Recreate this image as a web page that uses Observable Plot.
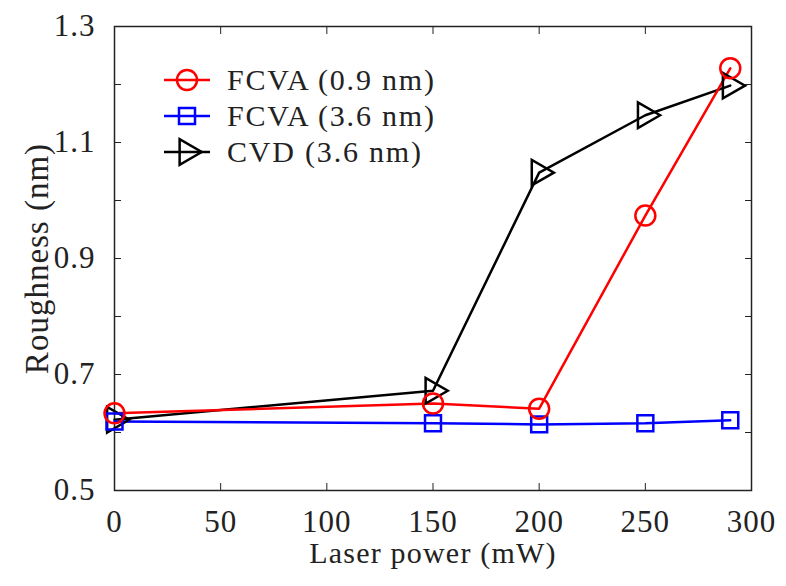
<!DOCTYPE html>
<html><head><meta charset="utf-8">
<script src="https://cdn.jsdelivr.net/npm/d3@7"></script>
<script src="https://cdn.jsdelivr.net/npm/@observablehq/plot@0.6"></script>
<style>
body{margin:0;background:#fff;}
#wrap{position:relative;width:786px;height:586px;font-family:"Liberation Serif","Times New Roman",serif;}
#legend{position:absolute;left:162px;top:62px;font-size:30px;letter-spacing:1.8px;line-height:36px;color:#222;}
#legend div{display:flex;align-items:center;height:36px;}
#legend svg{margin-right:15px;}
</style></head><body>
<div id="wrap"><div id="legend"></div></div>
<script>
const power = [0, 150, 200, 250, 290];
const fcva09 = [0.633, 0.650, 0.641, 0.974, 1.228];
const fcva36 = [0.619, 0.616, 0.614, 0.616, 0.621];
const cvd36 = [0.622, 0.672, 1.048, 1.147, 1.198];
const seriesNames = ["FCVA (0.9 nm)", "FCVA (3.6 nm)", "CVD (3.6 nm)"];
const seriesColors = ["#ff0000", "#0000ff", "#000000"];
const xTicks = [0, 50, 100, 150, 200, 250, 300];
const yLabelTicks = [0.5, 0.7, 0.9, 1.1, 1.3];
const yMinorTicks = [0.5, 0.6, 0.7, 0.8, 0.9, 1.0, 1.1, 1.2, 1.3];
const xLabel = "Laser power (mW)";
const yLabel = "Roughness (nm)";

const rows = [];
[fcva09, fcva36, cvd36].forEach((vals, i) => vals.forEach((v, j) => rows.push({series: seriesNames[i], x: power[j], y: v})));
const bySeries = name => rows.filter(d => d.series === name);

const chart = Plot.plot({
  width: 786, height: 586,
  marginLeft: 114, marginRight: 35, marginTop: 26, marginBottom: 96,
  style: {fontFamily: "Liberation Serif", fontSize: "31px", color: "#222", background: "white"},
  x: {domain: [0, 300]},
  y: {domain: [0.5, 1.3]},
  marks: [
    Plot.frame({stroke: "#222", strokeWidth: 1.5}),
    Plot.axisX(xTicks, {anchor: "bottom", tickSize: -7, tickPadding: 26, label: xLabel, labelAnchor: "center", labelArrow: "none", labelOffset: 72, fill: "#222"}),
    Plot.axisX(xTicks, {anchor: "top", tickSize: -7, text: null, label: null}),
    Plot.axisY(yMinorTicks, {anchor: "left", tickSize: -7, text: null, label: null}),
    Plot.axisY(yLabelTicks, {anchor: "left", tickSize: 0, tickPadding: 19, tickFormat: d3.format(".1f"), label: yLabel, labelAnchor: "center", labelArrow: "none", labelOffset: 90, fill: "#222"}),
    Plot.axisY(yMinorTicks, {anchor: "right", tickSize: -7, text: null, label: null}),
    Plot.line(bySeries(seriesNames[2]), {x: "x", y: "y", stroke: seriesColors[2], strokeWidth: 2.5}),
    Plot.line(bySeries(seriesNames[1]), {x: "x", y: "y", stroke: seriesColors[1], strokeWidth: 2.5}),
    Plot.line(bySeries(seriesNames[0]), {x: "x", y: "y", stroke: seriesColors[0], strokeWidth: 2.5}),
    Plot.dot(bySeries(seriesNames[2]), {x: "x", y: "y", symbol: "triangle", rotate: 90, r: 9.5, stroke: seriesColors[2], strokeWidth: 2.5, fill: "none"}),
    Plot.dot(bySeries(seriesNames[1]), {x: "x", y: "y", symbol: "square", r: 9, stroke: seriesColors[1], strokeWidth: 2.5, fill: "none"}),
    Plot.dot(bySeries(seriesNames[0]), {x: "x", y: "y", symbol: "circle", r: 10, stroke: seriesColors[0], strokeWidth: 2.5, fill: "none"})
  ]
});
document.getElementById("wrap").prepend(chart);
d3.select(chart).selectAll('g[aria-label="x-axis tick label"] text, g[aria-label="y-axis tick label"] text').style("font-size", "31px").style("letter-spacing", "1px");
d3.select(chart).selectAll("text").each(function() {
  const t = this.textContent;
  if (t === xLabel) d3.select(this).style("font-size", "30px").style("letter-spacing", "1.2px");
  if (t === yLabel) d3.select(this).style("font-size", "33px").style("letter-spacing", "1px");
});

const symbols = ["circle", "square", "triangle"];
const legend = d3.select("#legend");
seriesNames.forEach((name, i) => {
  const row = legend.append("div");
  const s = row.append("svg").attr("width", 50).attr("height", 30);
  s.append("line").attr("x1", 2).attr("x2", 48).attr("y1", 15).attr("y2", 15).attr("stroke", seriesColors[i]).attr("stroke-width", 2.5);
  const g = s.append("g").attr("transform", "translate(25,15)");
  if (symbols[i] === "circle") g.append("circle").attr("r", 10).attr("fill", "none").attr("stroke", seriesColors[i]).attr("stroke-width", 2.5);
  else if (symbols[i] === "square") g.append("rect").attr("x", -8).attr("y", -8).attr("width", 16).attr("height", 16).attr("fill", "none").attr("stroke", seriesColors[i]).attr("stroke-width", 2.5);
  else g.append("path").attr("d", d3.symbol(d3.symbolTriangle, Math.PI * 90)()).attr("transform", "rotate(90)").attr("fill", "none").attr("stroke", seriesColors[i]).attr("stroke-width", 2.5);
  row.append("span").text(name);
});
</script>
</body></html>
